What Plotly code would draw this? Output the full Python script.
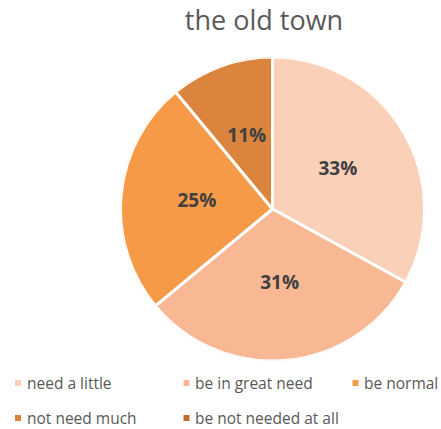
import plotly.graph_objects as go

# Survey shares for the old town
labels = ["need a little", "be in great need", "be normal", "not need much", "be not needed at all"]
values = [33, 31, 25, 11, 0]
colors = ["#FBD0B9", "#F9B894", "#F79A48", "#DB843E", "#C06A2C"]

W, H = 441, 429
FONT = "Open Sans, Noto Sans, sans-serif"
CX, CY, R = 272.5, 209, 152  # pie centre and radius in pixels

dom = dict(x=[(CX - R) / W, (CX + R) / W],
           y=[(H - CY - R) / H, (H - CY + R) / H])

# Slice geometry on the angular axis (degrees, clockwise from 12 o'clock)
total = sum(values)
spans = [v / total * 360 for v in values]
mids, acc = [], 0.0
for s in spans:
    mids.append(acc + s / 2)
    acc += s
pct_text = [f"{round(v / total * 100)}%" if v > 0 else "" for v in values]

fig = go.Figure()
fig.add_trace(go.Barpolar(
    r=[1] * len(values), theta=mids, width=spans,
    marker=dict(color=colors, line=dict(color="white", width=3)),
    customdata=values, name="", showlegend=False,
    hovertext=labels, hovertemplate="%{hovertext}: %{customdata}%<extra></extra>",
))

# Percentage labels at half radius in the middle of each slice
fig.add_trace(go.Scatterpolar(
    r=[0.5] * len(values), theta=mids, text=pct_text,
    mode="text", showlegend=False, hoverinfo="skip",
    textfont=dict(family=FONT, size=19, color="#404040", weight="bold"),
))

fig.update_layout(
    polar=dict(
        domain=dom, bgcolor="rgba(0,0,0,0)", bargap=0,
        radialaxis=dict(range=[0, 1], visible=False),
        angularaxis=dict(rotation=90, direction="clockwise", visible=False),
    ),
)

# Legend: two rows of colour swatches with labels
col_x = [18, 186.5, 355.5, 18, 186.5]
row_y = [383, 383, 383, 418, 418]
for lab, col, lx, ly in zip(labels, colors, col_x, row_y):
    fig.add_shape(type="rect", xref="paper", yref="paper",
                  x0=(lx - 3) / W, x1=(lx + 3) / W,
                  y0=1 - (ly + 3) / H, y1=1 - (ly - 3) / H,
                  fillcolor=col, line=dict(width=0))
    fig.add_annotation(text=lab, xref="paper", yref="paper",
                       x=(lx + 6.5) / W, y=1 - ly / H,
                       xanchor="left", yanchor="middle", showarrow=False,
                       font=dict(family=FONT, size=15.5, color="#595959"))

fig.update_layout(
    width=W, height=H,
    margin=dict(l=0, r=0, t=0, b=0, autoexpand=False),
    paper_bgcolor="white", plot_bgcolor="white",
    title=dict(text="the old town", x=264 / W, xanchor="center",
               y=1 - 21 / H, yanchor="middle",
               font=dict(family=FONT, size=27, color="#595959")),
    xaxis=dict(visible=False), yaxis=dict(visible=False),
)

fig.write_html("out.html")
